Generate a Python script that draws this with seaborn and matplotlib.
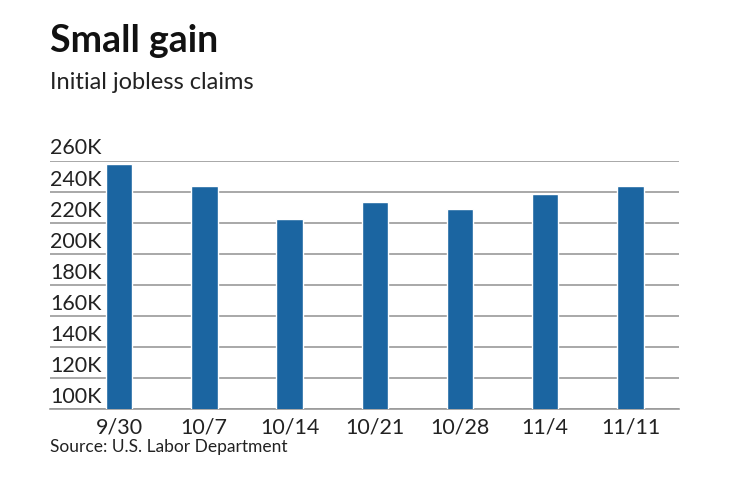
import matplotlib
matplotlib.use('Agg')
import matplotlib.pyplot as plt
import matplotlib.transforms as mtransforms
import pandas as pd
import seaborn as sns

sns.set_style('white')
plt.rcParams['font.family'] = ['Lato', 'DejaVu Sans']

weeks = ['9/30', '10/7', '10/14', '10/21', '10/28', '11/4', '11/11']
claims = [258, 244, 223, 234, 229, 239, 244]   # thousands
yticks = [100, 120, 140, 160, 180, 200, 220, 240, 260]
ytick_labels = ['100K', '120K', '140K', '160K', '180K', '200K', '220K', '240K', '260K']

df = pd.DataFrame({'week': weeks, 'claims': claims})

fig = plt.figure(figsize=(7.4, 4.82), dpi=100)
ax = fig.add_axes([0.0676, 0.1508, 0.85, 0.5146])

sns.barplot(data=df, x='week', y='claims', color='#1b65a1', saturation=1,
            width=0.31, ax=ax, zorder=3)

ax.set_ylim(100, 260)
ax.set_xlim(-0.81, 6.57)
ax.set_yticks(yticks)
ax.set_yticklabels([])
ax.grid(axis='y', color='#9a9a9a', linewidth=1.2, zorder=0)
ax.grid(axis='x', visible=False)
for s in ['top', 'right', 'left']:
    ax.spines[s].set_visible(False)
ax.spines['bottom'].set_color('#9a9a9a')
ax.spines['bottom'].set_linewidth(1.2)
ax.tick_params(axis='both', length=0)
ax.tick_params(axis='x', labelsize=15.5, pad=6, colors='#222222')
ax.set_xlabel('')
ax.set_ylabel('')

trans = mtransforms.blended_transform_factory(ax.transAxes, ax.transData)
off = mtransforms.offset_copy(trans, fig=fig, x=0, y=2, units='points')
for v, lab in zip(yticks, ytick_labels):
    ax.text(0, v, lab, transform=off, ha='left', va='bottom', fontsize=15.5,
            color='#222222', zorder=4)

fig.text(0.0676, 0.893, 'Small gain', fontsize=27, fontweight='bold',
         color='#111111', ha='left', va='baseline')
fig.text(0.0676, 0.815, 'Initial jobless claims', fontsize=17,
         color='#222222', ha='left', va='baseline')
fig.text(0.0676, 0.063, 'Source: U.S. Labor Department', fontsize=12.5,
         color='#222222', ha='left', va='baseline')

fig.savefig('out.png', dpi=100)
